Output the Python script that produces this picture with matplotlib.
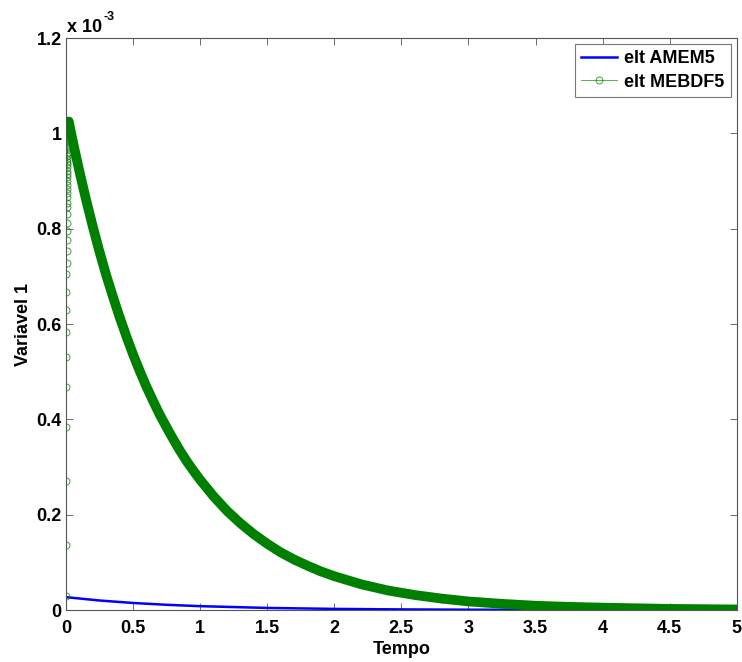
import numpy as np
import matplotlib
matplotlib.use('Agg')
import matplotlib.pyplot as plt
from matplotlib.ticker import FuncFormatter

plt.rcParams['font.family'] = ['Liberation Sans', 'DejaVu Sans']
plt.rcParams['font.weight'] = 'bold'

# elt AMEM5 solution (values in units of 1e-3)
amem5_t = [0.0, 0.25, 0.5, 0.75, 1.0, 1.5, 2.0, 2.5, 3.0, 3.5, 4.0, 4.5, 5.0]
amem5_y = [0.027, 0.020, 0.0148, 0.011, 0.0081, 0.0044, 0.0024, 0.0013,
           0.0007, 0.0004, 0.0002, 0.0001, 0.00006]

# elt MEBDF5: fast start-up transient (values in units of 1e-3)
mebdf5_ramp_y = [0.03, 0.137, 0.271, 0.384, 0.468, 0.531, 0.584, 0.630, 0.668,
                 0.704, 0.729, 0.754, 0.777, 0.796, 0.813, 0.830, 0.845, 0.855,
                 0.866, 0.875, 0.884, 0.892, 0.900, 0.908, 0.915, 0.922, 0.929,
                 0.935, 0.941, 0.947, 0.952, 0.957, 0.962, 0.967, 0.971, 0.975,
                 0.979, 0.983, 0.987, 0.990, 0.994, 0.997, 1.000, 1.003, 1.006,
                 1.009, 1.012, 1.015, 1.018, 1.020, 1.022, 1.024]
mebdf5_ramp_t = np.linspace(0.0, 0.018, len(mebdf5_ramp_y))

# elt MEBDF5: decay after the peak (values in units of 1e-3)
mebdf5_t = [0.02, 0.05, 0.1, 0.15, 0.2, 0.25, 0.3, 0.35, 0.4, 0.45, 0.5,
            0.55, 0.6, 0.65, 0.7, 0.75, 0.8, 0.85, 0.9, 0.95, 1.0, 1.1, 1.2,
            1.3, 1.4, 1.5, 1.6, 1.7, 1.8, 1.9, 2.0, 2.2, 2.4, 2.6, 2.8, 3.0,
            3.25, 3.5, 3.75, 4.0, 4.5, 5.0]
mebdf5_y = [1.025, 0.984, 0.920, 0.860, 0.804, 0.751, 0.702, 0.657, 0.614,
            0.574, 0.536, 0.501, 0.468, 0.438, 0.409, 0.383, 0.358, 0.334,
            0.312, 0.292, 0.273, 0.2385, 0.208, 0.182, 0.159, 0.139, 0.121,
            0.106, 0.093, 0.081, 0.071, 0.054, 0.041, 0.0315, 0.024, 0.018,
            0.013, 0.009, 0.0067, 0.005, 0.0024, 0.0012]

scale = 1e-3
green = (0, 0.5, 0)

fig = plt.figure(figsize=(7.42, 6.62), dpi=100)
ax = fig.add_axes([0.089, 0.0785, 0.904, 0.864])

ax.plot(amem5_t, np.array(amem5_y) * scale, color='blue', lw=1.8,
        label='elt AMEM5')

# dense solver output overlaps into a solid band
ax.plot(mebdf5_t, np.array(mebdf5_y) * scale, color=green, lw=7,
        solid_capstyle='round', solid_joinstyle='round')
ax.plot(list(mebdf5_ramp_t) + mebdf5_t,
        np.array(mebdf5_ramp_y + mebdf5_y) * scale, color=green, lw=0.6,
        alpha=0.75, marker='o', ms=5, mfc='none', mec=green, mew=0.7,
        label='elt MEBDF5')

ax.set_xlim(0, 5)
ax.set_ylim(0, 1.2e-3)
ax.set_xticks(np.arange(0, 5.01, 0.5))
ax.set_yticks(np.arange(0, 1.21e-3, 0.2e-3))
ax.xaxis.set_major_formatter(FuncFormatter(lambda v, p: f'{v:g}'))
ax.yaxis.set_major_formatter(FuncFormatter(lambda v, p: f'{round(v / scale, 2):g}'))
ax.tick_params(direction='in', length=5, width=0.6, top=True, right=True,
               labelsize=13, color='#555555')
ax.tick_params(axis='x', pad=7)
ax.tick_params(axis='y', pad=3)
for s in ax.spines.values():
    s.set_color('#555555')
    s.set_linewidth(0.8)

ax.set_xlabel('Tempo', fontsize=13, fontweight='bold', labelpad=3)
ax.set_ylabel('Variavel 1', fontsize=13, fontweight='bold', labelpad=3.5)

# exponent marker above the y axis
ax.text(0.002, 1.004, 'x 10', transform=ax.transAxes, fontsize=13,
        fontweight='bold', ha='left', va='bottom')
ax.text(0.056, 1.027, '-3', transform=ax.transAxes, fontsize=9,
        fontweight='bold', ha='left', va='bottom')

leg = ax.legend(loc='upper right', bbox_to_anchor=(0.991, 0.9895),
                fontsize=13, fancybox=False, framealpha=1,
                edgecolor='#777777', handlelength=2.0, borderpad=0.35,
                labelspacing=0.35, handletextpad=0.4, borderaxespad=0)
leg.get_frame().set_linewidth(0.8)

fig.savefig('out.png', dpi=100)
